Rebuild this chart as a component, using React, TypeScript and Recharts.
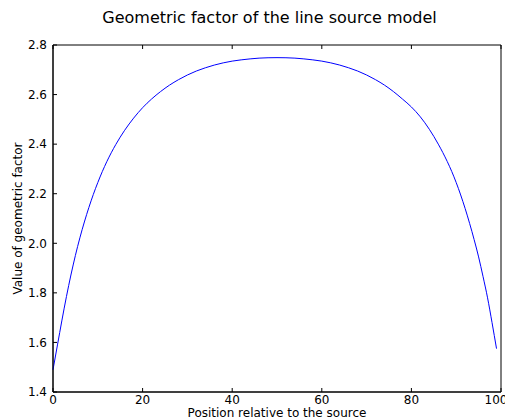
import { LineChart, Line, XAxis, YAxis, ReferenceArea } from 'recharts';

// position along the source (x) and geometric factor (y)
const positions = [
    0, 1, 2, 3, 4, 5, 6, 7, 8, 9, 10, 11, 12, 14, 16, 18, 20, 22, 24, 26, 28, 30,
    32, 34, 36, 38, 40, 42, 44, 46, 48, 50, 52, 54, 56, 58, 60, 62, 64, 66, 68, 70,
    72, 74, 76, 78, 80, 82, 84, 86, 88, 89, 90, 91, 92, 93, 94, 95, 96, 97, 98, 99,
];
const factors = [
    1.49, 1.59, 1.69, 1.785, 1.872, 1.951, 2.022, 2.086, 2.144, 2.197, 2.245, 2.289,
    2.329, 2.398, 2.456, 2.505, 2.547, 2.582, 2.612, 2.638, 2.66, 2.679, 2.695, 2.708,
    2.719, 2.728, 2.735, 2.74, 2.744, 2.747, 2.7485, 2.749, 2.7485, 2.747, 2.744, 2.74,
    2.735, 2.728, 2.719, 2.708, 2.695, 2.679, 2.66, 2.638, 2.612, 2.582, 2.55, 2.51,
    2.46, 2.4, 2.33, 2.29, 2.245, 2.195, 2.14, 2.08, 2.015, 1.945, 1.865, 1.78, 1.68, 1.575,
];
const xTicks = [0, 20, 40, 60, 80, 100];
const yTicks = [1.4, 1.6, 1.8, 2.0, 2.2, 2.4, 2.6, 2.8];

const title = 'Geometric factor of the line source model';
const xLabel = 'Position relative to the source';
const yLabel = 'Value of geometric factor';

const data = positions.map((p, i) => ({ pos: p, value: factors[i] }));

const FONT = '"DejaVu Sans", sans-serif';
const AXIS = '#000000';
const noTick = () => <g />;

export default function App() {
    return (
        <div style={{ position: 'absolute', left: 0, top: 0, width: 505, height: 420, overflow: 'hidden', background: '#fff', fontFamily: FONT }}>
            <div style={{ position: 'absolute', top: 8, left: 0, width: 539, textAlign: 'center', fontSize: 16, color: '#000' }}>
                {title}
            </div>
            <LineChart width={505} height={420} data={data} margin={{ top: 44, right: 3, bottom: 0, left: 0 }}>
                <XAxis
                    xAxisId="bottom"
                    dataKey="pos"
                    type="number"
                    domain={[0, 100]}
                    ticks={xTicks}
                    height={28}
                    tickSize={-4}
                    tickMargin={7}
                    stroke={AXIS}
                    tick={{ fill: '#000', fontSize: 12, fontFamily: FONT }}
                    label={{ value: xLabel, position: 'insideBottom', offset: 3, fill: '#000', fontSize: 12, fontFamily: FONT }}
                />
                <XAxis
                    xAxisId="top"
                    orientation="top"
                    dataKey="pos"
                    type="number"
                    domain={[0, 100]}
                    ticks={xTicks}
                    height={1}
                    tickSize={-4}
                    tick={noTick}
                    axisLine={false}
                    stroke={AXIS}
                />
                <YAxis
                    yAxisId="left"
                    type="number"
                    domain={[1.4, 2.8]}
                    ticks={yTicks}
                    width={53}
                    tickSize={-4}
                    tickMargin={10}
                    tickFormatter={(v: number) => v.toFixed(1)}
                    stroke={AXIS}
                    tick={{ fill: '#000', fontSize: 12, fontFamily: FONT }}
                    label={{ value: yLabel, angle: -90, position: 'insideLeft', offset: 18, fill: '#000', fontSize: 12, fontFamily: FONT, style: { textAnchor: 'middle' } }}
                />
                <YAxis
                    yAxisId="right"
                    orientation="right"
                    type="number"
                    domain={[1.4, 2.8]}
                    ticks={yTicks}
                    width={1}
                    tickSize={-4}
                    tick={noTick}
                    axisLine={false}
                    stroke={AXIS}
                />
                <ReferenceArea
                    xAxisId="bottom"
                    yAxisId="left"
                    x1={0}
                    x2={100}
                    y1={1.4}
                    y2={2.8}
                    fill="none"
                    stroke={AXIS}
                    strokeWidth={1}
                    ifOverflow="visible"
                />
                <Line
                    xAxisId="bottom"
                    yAxisId="left"
                    type="monotone"
                    dataKey="value"
                    stroke="#0000ff"
                    strokeWidth={1}
                    dot={false}
                    isAnimationActive={false}
                />
            </LineChart>
        </div>
    );
}
